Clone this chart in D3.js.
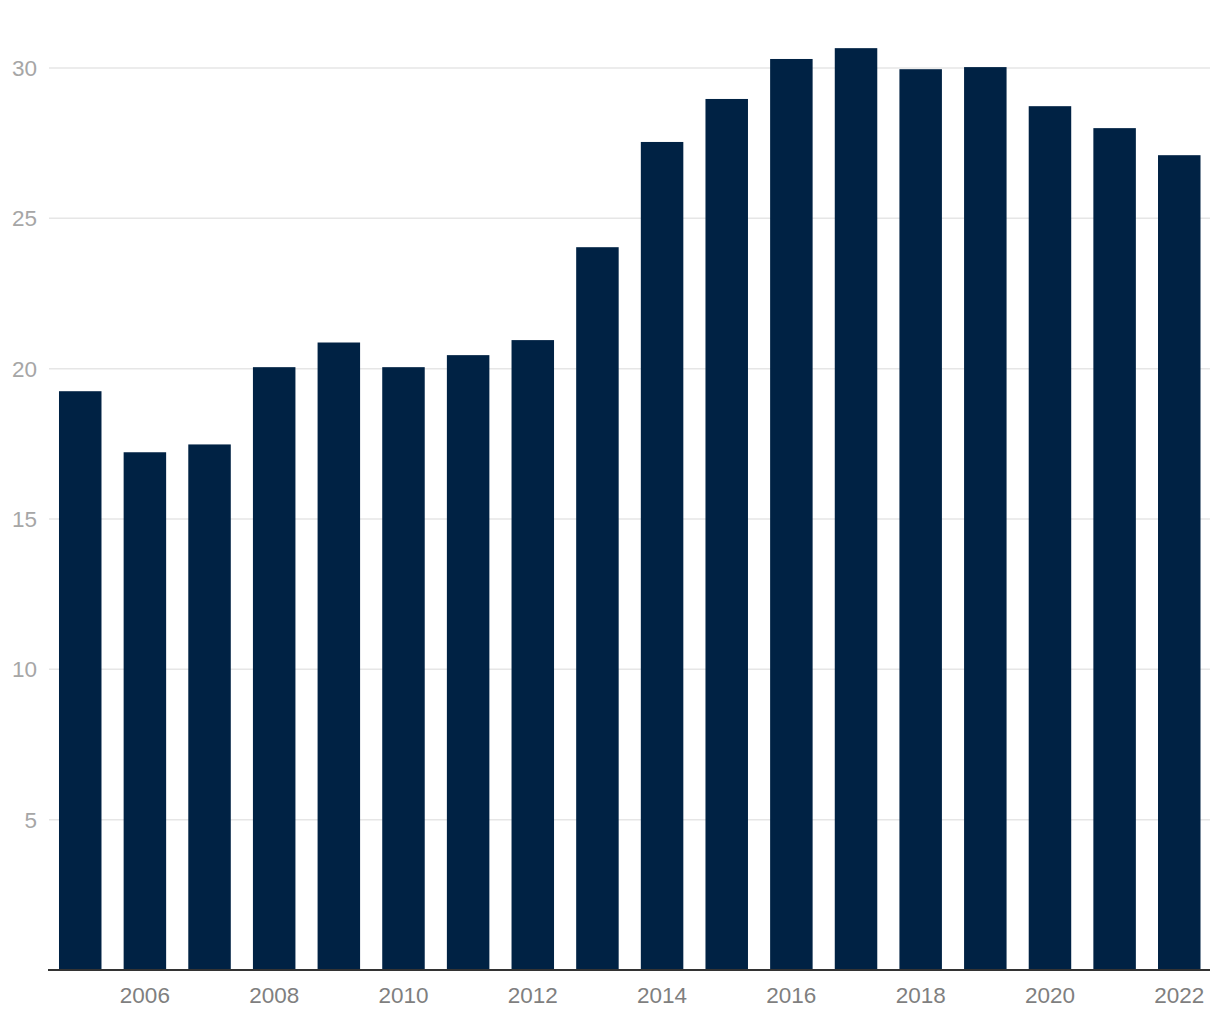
<!DOCTYPE html>
<html><head><meta charset="utf-8">
<script src="https://cdn.jsdelivr.net/npm/d3@7"></script>
<style>body{margin:0;background:#fff}</style>
</head><body>
<svg id="c" width="1220" height="1020"></svg>
<script>
const years = [2005,2006,2007,2008,2009,2010,2011,2012,2013,2014,2015,2016,2017,2018,2019,2020,2021,2022];
const values = [19.25,17.22,17.48,20.05,20.87,20.05,20.45,20.95,24.04,27.54,28.97,30.3,30.66,29.96,30.03,28.73,28.0,27.1];
const yTicks = [5,10,15,20,25,30];
const xTickYears = [2006,2008,2010,2012,2014,2016,2018,2020,2022];

const svg = d3.select("#c");
const left = 48, right = 1210, bottom = 970;
const y = d3.scaleLinear().domain([0,30]).range([bottom, 68]);
const x = d3.scaleBand().domain(years).range([left, 1211.5]).paddingInner(0.3426).paddingOuter(0.17);

const grid = svg.append("g");
grid.selectAll("line").data(yTicks).enter().append("line")
  .attr("x1", left+1).attr("x2", right)
  .attr("y1", d=>y(d)).attr("y2", d=>y(d))
  .attr("stroke", "#e6e6e6").attr("stroke-width", 1.5);
grid.selectAll("text").data(yTicks).enter().append("text")
  .attr("x", 37).attr("y", d=>y(d)).attr("dy", "0.35em")
  .attr("text-anchor", "end").attr("font-family", "Liberation Sans, Arial, sans-serif")
  .attr("font-size", 22.5).attr("fill", "#a6a6a6").text(d=>d);

svg.append("g").selectAll("rect").data(years).enter().append("rect")
  .attr("x", d=>x(d)).attr("width", x.bandwidth())
  .attr("y", (d,i)=>y(values[i])).attr("height", (d,i)=>bottom - y(values[i]))
  .attr("fill", "#002244");

svg.append("line").attr("x1", left).attr("x2", right).attr("y1", bottom).attr("y2", bottom)
  .attr("stroke", "#333").attr("stroke-width", 2);

svg.append("g").selectAll("text").data(xTickYears).enter().append("text")
  .attr("x", d=>x(d)+x.bandwidth()/2).attr("y", 1003)
  .attr("text-anchor", "middle").attr("font-family", "Liberation Sans, Arial, sans-serif")
  .attr("font-size", 22.5).attr("fill", "#7f7f7f").text(d=>d);
</script>
</body></html>
